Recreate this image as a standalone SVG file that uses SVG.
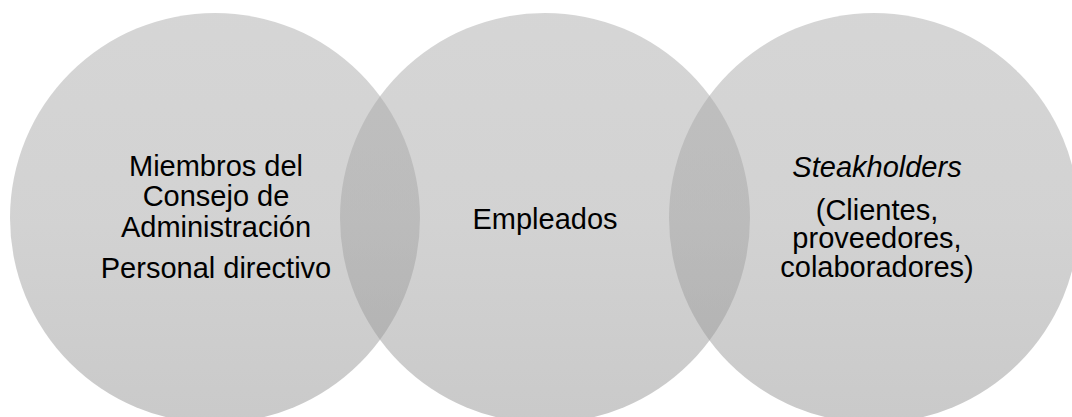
<svg xmlns="http://www.w3.org/2000/svg" width="1072" height="417" viewBox="0 0 1072 417">
<defs>
<linearGradient id="g" gradientUnits="userSpaceOnUse" x1="0" y1="13" x2="0" y2="423">
<stop offset="0" stop-color="#aaaaaa"/>
<stop offset="0.5" stop-color="#a4a4a4"/>
<stop offset="1" stop-color="#929292"/>
</linearGradient>
</defs>
<style>
.c{fill:url(#g);fill-opacity:0.49}
.t{font-family:"Liberation Sans",Arial,sans-serif;font-size:29px;fill:#000;text-anchor:middle}
.i{font-style:italic}
</style>
<rect width="1072" height="417" fill="#fff"/>
<g id="node-consejo">
<circle class="c" cx="215" cy="218" r="205"/>
<text class="t" x="216" y="176">Miembros del</text>
<text class="t" x="216" y="206">Consejo de</text>
<text class="t" x="216" y="237">Administración</text>
<text class="t" x="216" y="278">Personal directivo</text>
</g>
<g id="node-empleados">
<circle class="c" cx="545" cy="218" r="205"/>
<text class="t" x="545" y="229">Empleados</text>
</g>
<g id="node-steakholders">
<circle class="c" cx="874" cy="218" r="205"/>
<text class="t i" x="877" y="177">Steakholders</text>
<text class="t" x="877" y="220">(Clientes,</text>
<text class="t" x="877" y="248">proveedores,</text>
<text class="t" x="877" y="277">colaboradores)</text>
</g>
<g id="connectors"></g>
</svg>
